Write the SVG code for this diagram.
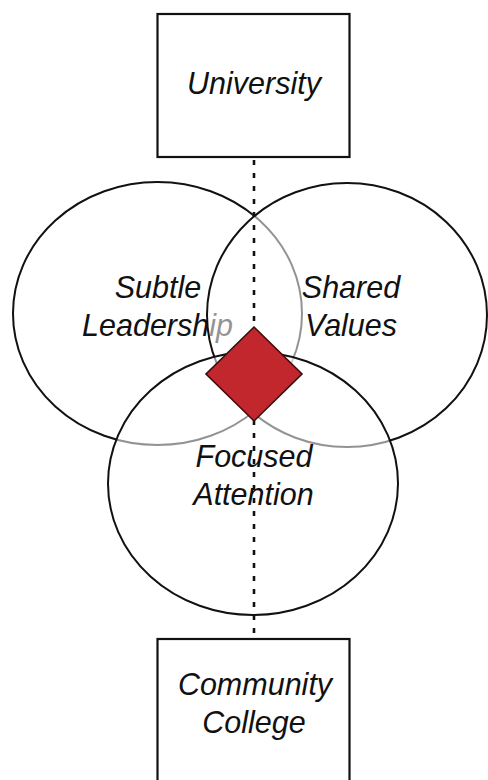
<svg xmlns="http://www.w3.org/2000/svg" width="488" height="780" viewBox="0 0 488 780">
<style>
.box{fill:#fff;stroke:#111;stroke-width:2.2}
.ring{stroke:#111;stroke-width:2}
.lbl{font-family:"Liberation Sans",Arial,sans-serif;font-style:italic;font-size:30.5px;fill:#111;text-anchor:middle}
.link{stroke:#111;stroke-width:2.6;stroke-dasharray:5 8;fill:none}
</style>
<rect width="488" height="780" fill="#fff"/>
<g id="university">
<rect class="box" x="157.5" y="14" width="192" height="143"/>
<text class="lbl" x="254" y="94">University</text>
</g>
<g id="community-college">
<rect class="box" x="157.5" y="639" width="192" height="170"/>
<text class="lbl" x="255" y="695">Community</text>
<text class="lbl" x="254" y="733">College</text>
</g>
<g id="subtle-leadership">
<ellipse class="ring" cx="157.5" cy="313.5" rx="144.5" ry="131.5" fill="#fff"/>
<text class="lbl" x="158" y="298">Subtle</text>
<text class="lbl" x="157.5" y="336">Leadership</text>
</g>
<g id="shared-values">
<ellipse class="ring" cx="347" cy="315" rx="140" ry="132" fill="#fff" fill-opacity="0.55"/>
<text class="lbl" x="351" y="298">Shared</text>
<text class="lbl" x="351" y="336">Values</text>
</g>
<g id="focused-attention">
<ellipse class="ring" cx="253" cy="483.5" rx="145" ry="131.5" fill="#fff" fill-opacity="0.55"/>
<text class="lbl" x="254" y="467">Focused</text>
<text class="lbl" x="253.5" y="505">Attention</text>
</g>
<g id="connectors">
<line class="link" x1="254" y1="160" x2="254" y2="637"/>
</g>
<g id="center">
<polygon points="254,327 302,374 254,421 206,374" fill="#c1272d" stroke="#3a0d0d" stroke-width="1.6"/>
</g>
</svg>
